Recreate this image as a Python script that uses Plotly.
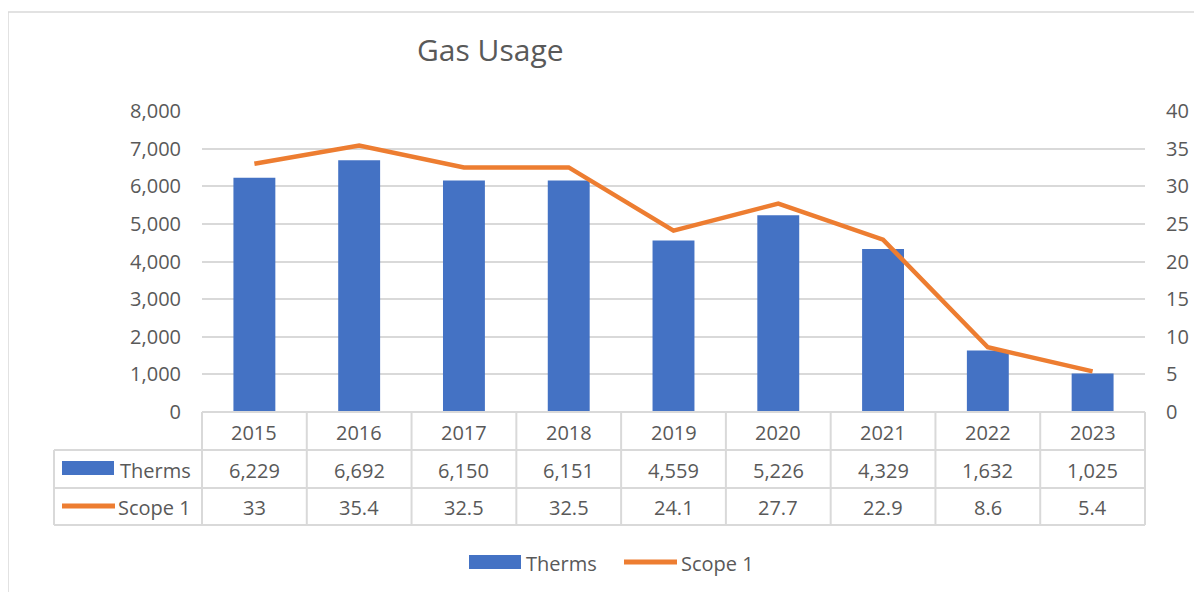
import plotly.graph_objects as go

years = ["2015", "2016", "2017", "2018", "2019", "2020", "2021", "2022", "2023"]
therms = [6229, 6692, 6150, 6151, 4559, 5226, 4329, 1632, 1025]
scope1 = [33, 35.4, 32.5, 32.5, 24.1, 27.7, 22.9, 8.6, 5.4]
therms_labels = ["6,229", "6,692", "6,150", "6,151", "4,559", "5,226", "4,329", "1,632", "1,025"]
scope1_labels = ["33", "35.4", "32.5", "32.5", "24.1", "27.7", "22.9", "8.6", "5.4"]

BLUE = "#4472C4"
ORANGE = "#ED7D31"
GRID = "#D9D9D9"
TEXT = "#595959"
FONT = "Open Sans"
FS = 20

OFF = 8  # page body margin
SW, SH = 1202, 592
W, H = SW - OFF, SH - OFF
# plot area in screen pixels
SL, SR, ST, SB = 202, 1145, 111, 412
L, R, T, B = SL - OFF, W - (SR - OFF), ST - OFF, H - (SB - OFF)
PW = W - L - R
PH = H - T - B


def px(x):
    return (x - SL) / PW


def py(y):
    return (SB - y) / PH


fig = go.Figure()
fig.add_trace(go.Bar(x=years, y=therms, name="Therms", marker=dict(color=BLUE, line=dict(width=0)),
                     width=0.4, hoverinfo="skip", showlegend=False))
fig.add_trace(go.Scatter(x=years, y=scope1, name="Scope 1", yaxis="y2", mode="lines",
                         line=dict(color=ORANGE, width=4.5), hoverinfo="skip", showlegend=False))

shapes = []
annotations = []

# chart border
shapes.append(dict(type="line", xref="paper", yref="paper", x0=px(8), x1=px(1210), y0=py(12), y1=py(12),
                   line=dict(color=GRID, width=1.5)))
shapes.append(dict(type="line", xref="paper", yref="paper", x0=px(8), x1=px(8), y0=py(12), y1=py(600),
                   line=dict(color=GRID, width=1.5)))

# data table
rows_y = [412, 450, 488, 525]
n = len(years)
tl = 54
shapes.append(dict(type="line", xref="paper", yref="paper", x0=0, x1=1, y0=py(rows_y[0]), y1=py(rows_y[0]),
                   line=dict(color=GRID, width=2)))
for ry in rows_y[1:]:
    shapes.append(dict(type="line", xref="paper", yref="paper", x0=px(tl), x1=1, y0=py(ry), y1=py(ry),
                       line=dict(color=GRID, width=2)))
shapes.append(dict(type="line", xref="paper", yref="paper", x0=px(tl), x1=px(tl), y0=py(rows_y[1]),
                   y1=py(rows_y[3]), line=dict(color=GRID, width=2)))
for k in range(n + 1):
    xk = k / n
    shapes.append(dict(type="line", xref="paper", yref="paper", x0=xk, x1=xk, y0=py(rows_y[0]),
                       y1=py(rows_y[3]), line=dict(color=GRID, width=2)))

row_texts = [years, therms_labels, scope1_labels]
for r, texts in enumerate(row_texts):
    yc = py((rows_y[r] + rows_y[r + 1]) / 2 + 1)
    for i, t in enumerate(texts):
        annotations.append(dict(x=(i + 0.5) / n, xref="paper", y=yc, yref="paper", text=t, showarrow=False,
                                xanchor="center", yanchor="middle", font=dict(family=FONT, size=FS, color=TEXT)))

# table legend keys
shapes.append(dict(type="rect", xref="paper", yref="paper", x0=px(62), x1=px(114), y0=py(475), y1=py(461),
                   fillcolor=BLUE, line=dict(width=0)))
annotations.append(dict(x=px(118), xref="paper", y=py(470), yref="paper", text="Therms", showarrow=False,
                        xanchor="left", yanchor="middle", font=dict(family=FONT, size=FS, color=TEXT)))
shapes.append(dict(type="line", xref="paper", yref="paper", x0=px(62), x1=px(115), y0=py(506), y1=py(506),
                   line=dict(color=ORANGE, width=5)))
annotations.append(dict(x=px(116), xref="paper", y=py(507), yref="paper", text="Scope 1", showarrow=False,
                        xanchor="left", yanchor="middle", font=dict(family=FONT, size=FS, color=TEXT)))

# bottom legend
shapes.append(dict(type="rect", xref="paper", yref="paper", x0=px(469), x1=px(521), y0=py(569), y1=py(555),
                   fillcolor=BLUE, line=dict(width=0)))
annotations.append(dict(x=px(524), xref="paper", y=py(563), yref="paper", text="Therms", showarrow=False,
                        xanchor="left", yanchor="middle", font=dict(family=FONT, size=FS, color=TEXT)))
shapes.append(dict(type="line", xref="paper", yref="paper", x0=px(624), x1=px(677), y0=py(562), y1=py(562),
                   line=dict(color=ORANGE, width=5)))
annotations.append(dict(x=px(679), xref="paper", y=py(563), yref="paper", text="Scope 1", showarrow=False,
                        xanchor="left", yanchor="middle", font=dict(family=FONT, size=FS, color=TEXT)))

# title
annotations.append(dict(x=px(490), xref="paper", y=py(50), yref="paper", text="Gas Usage", showarrow=False,
                        xanchor="center", yanchor="middle", font=dict(family=FONT, size=30, color=TEXT)))

fig.update_layout(
    width=W, height=H,
    margin=dict(l=L, r=R, t=T, b=B, pad=0),
    paper_bgcolor="white", plot_bgcolor="white",
    font=dict(family=FONT, size=FS, color=TEXT),
    xaxis=dict(type="category", showticklabels=False, showgrid=False, showline=False, zeroline=False,
               ticks="", range=[-0.5, n - 0.5], fixedrange=True),
    yaxis=dict(range=[0, 8000], dtick=1000, tickformat=",", showgrid=True, gridcolor=GRID, gridwidth=1.5,
               zeroline=False, showline=False, ticks="", ticklabelstandoff=20,
               tickfont=dict(family=FONT, size=FS, color=TEXT)),
    yaxis2=dict(range=[0, 40], dtick=5, overlaying="y", side="right", showgrid=False, zeroline=False,
                showline=False, ticks="", ticklabelstandoff=20,
                tickfont=dict(family=FONT, size=FS, color=TEXT)),
    shapes=shapes,
    annotations=annotations,
    showlegend=False,
    bargap=0.6,
)

fig.write_html("out.html")
